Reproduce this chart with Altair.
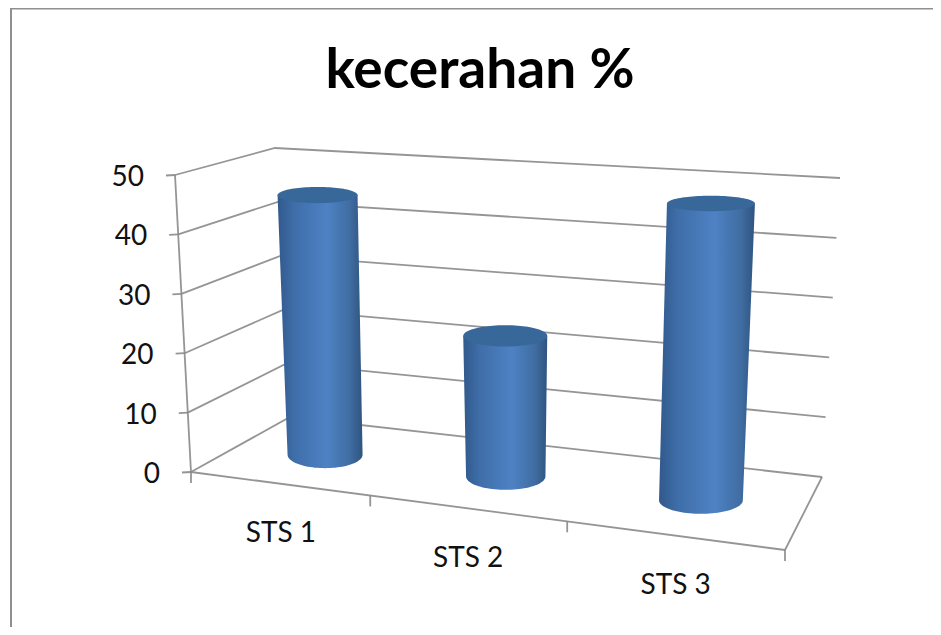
import numpy as np
import pandas as pd
import altair as alt

TITLE = "kecerahan %"
categories = ["STS 1", "STS 2", "STS 3"]
values = [45, 23.5, 48]
y_ticks = [0, 10, 20, 30, 40, 50]

W, H = 925, 619
FONT = "Lato"

# Camera: where the corners of the 3D chart box land on the page
floor_q = [(191, 472), (785, 550), (822, 477), (290, 417)]  # front-left, front-right, back-right, back-left
top_q = [(175, 175), (825, 222), (840, 178), (275, 148)]
# Perspective corrections of each cylinder's axis, in page pixels
base_shift = [1.5, 4, 3]
lean = [-7.5, -0.5, 10]


def homography(q):
    src = [(0, 0), (1, 0), (1, 1), (0, 1)]
    A, b = [], []
    for (u, v), (x, y) in zip(src, q):
        A.append([u, v, 1, 0, 0, 0, -u * x, -v * x]); b.append(x)
        A.append([0, 0, 0, u, v, 1, -u * y, -v * y]); b.append(y)
    h = np.linalg.solve(np.array(A, float), np.array(b, float))
    return np.append(h, 1).reshape(3, 3)


HF, HT = homography(floor_q), homography(top_q)


def _ap(M, u, v):
    p = M @ np.array([u, v, 1.0])
    return p[:2] / p[2]


def P(u, v, w):
    t = w / 50
    return (1 - t) * _ap(HF, u, v) + t * _ap(HT, u, v)


# gridlines and axes
rows = []


def polyline(name, pts):
    for i, (x, y) in enumerate(pts):
        rows.append({"g": name, "i": i, "x": float(x), "y": float(y)})


for w in y_ticks:
    polyline(f"wall{w}", [P(0, 0, w), P(0, 1, w), P(1, 1, w)])
    a = P(0, 0, w)
    polyline(f"ytick{w}", [a, a + np.array([-9, 0.5])])
polyline("yaxis", [P(0, 0, 0), P(0, 0, 50)])
polyline("front", [P(0, 0, 0), P(1, 0, 0)])
polyline("side", [P(1, 0, 0), P(1, 1, 0)])
n_cat = len(categories)
for k in range(n_cat + 1):
    a = P(k / n_cat, 0, 0)
    polyline(f"xtick{k}", [a + np.array([1, 0]), a + np.array([1, 11])] if 0 < k < n_cat else [a, a + np.array([0, 11])])
grid_df = pd.DataFrame(rows)

# cylinders
body, tops = [], []
for k, (cat, val) in enumerate(zip(categories, values)):
    u = (k + 0.5) / n_cat
    b = P(u, 0.47, 0) + np.array([base_shift[k], 0])
    t = np.array([b[0] + lean[k], P(u, 0.47, val)[1]])
    rb, rt = 37.5 + 2.2 * k, 40 + 2 * k
    ryb, ryt = 13.5, 13.5 - 6 * val / 50
    for y in np.linspace(t[1], b[1], 12):
        f = (y - t[1]) / (b[1] - t[1])
        cx = t[0] + f * (b[0] - t[0])
        r = rt + f * (rb - rt)
        body.append({"bar": cat, "y": y, "x": cx - r, "x2": cx + r})
    for a in np.linspace(0, np.pi / 2, 24)[1:]:
        y = b[1] + ryb * np.sin(a)
        d = rb * np.cos(a)
        body.append({"bar": cat, "y": y, "x": b[0] - d, "x2": b[0] + d})
    for a in np.linspace(np.pi, 0, 48):
        x = t[0] + rt * np.cos(a)
        d = ryt * np.sin(a)
        tops.append({"bar": cat, "x": x, "y": t[1] - d, "y2": t[1] + d})
body_df = pd.DataFrame(body)
top_df = pd.DataFrame(tops)

# text
ytxt = pd.DataFrame(
    [{"label": str(w), "x": float(P(0, 0, w)[0]) - 31, "y": float(P(0, 0, w)[1]) + 3} for w in y_ticks]
)
ctxt = pd.DataFrame(
    [
        {"label": c, "x": float(P((k + 0.5) / n_cat, 0, 0)[0]) + 3, "y": float(P((k + 0.5) / n_cat, 0, 0)[1]) + 51}
        for k, c in enumerate(categories)
    ]
)
title_df = pd.DataFrame([{"label": TITLE, "x": 480.0, "y": 71.0}])
frame_df = pd.DataFrame(
    [{"x": 11.0, "y": 627.0, "i": 0}, {"x": 11.0, "y": 8.6, "i": 1}, {"x": 933.0, "y": 8.6, "i": 2}]
)

sx = alt.Scale(domain=[8, 933], nice=False, zero=False)
sy = alt.Scale(domain=[627, 8], nice=False, zero=False)
X = alt.X("x:Q", axis=None, scale=sx)
Y = alt.Y("y:Q", axis=None, scale=sy)

frame = alt.Chart(frame_df).mark_line(color="#8f8f8f", strokeWidth=2, clip=True).encode(X, Y, order="i:Q")
grid = (
    alt.Chart(grid_df)
    .mark_line(color="#8a8a8a", strokeWidth=1.8, opacity=0.9)
    .encode(X, Y, detail="g:N", order="i:Q")
)
grad = alt.Gradient(
    gradient="linear",
    x1=0,
    x2=1,
    y1=0,
    y2=0,
    stops=[
        alt.GradientStop(color="#31598c", offset=0),
        alt.GradientStop(color="#3f6ea9", offset=0.2),
        alt.GradientStop(color="#4e82c4", offset=0.58),
        alt.GradientStop(color="#406da2", offset=0.85),
        alt.GradientStop(color="#2f5480", offset=1),
    ],
)

layers = [frame, grid]
for c in categories:
    layers.append(
        alt.Chart(body_df[body_df.bar == c])
        .mark_area(orient="horizontal", fill=grad)
        .encode(Y, X, alt.X2("x2:Q"))
    )
    layers.append(
        alt.Chart(top_df[top_df.bar == c])
        .mark_area(color="#386899")
        .encode(X, Y, y2="y2:Q")
    )

ylabels = (
    alt.Chart(ytxt)
    .mark_text(font=FONT, fontSize=28, align="right", baseline="middle", color="#111111")
    .encode(X, Y, text="label:N")
)
clabels = (
    alt.Chart(ctxt)
    .mark_text(font=FONT, fontSize=28, align="center", baseline="middle", color="#111111")
    .encode(X, Y, text="label:N")
)
title = (
    alt.Chart(title_df)
    .mark_text(font=FONT, fontSize=55, fontWeight="bold", align="center", baseline="middle", color="#000000")
    .encode(X, Y, text="label:N")
)
layers += [ylabels, clabels, title]

chart = (
    alt.layer(*layers)
    .properties(width=W, height=H, padding=0, background="white")
    .configure_view(stroke=None)
)
chart.save("out.html", embed_options={"renderer": "svg", "actions": False})
